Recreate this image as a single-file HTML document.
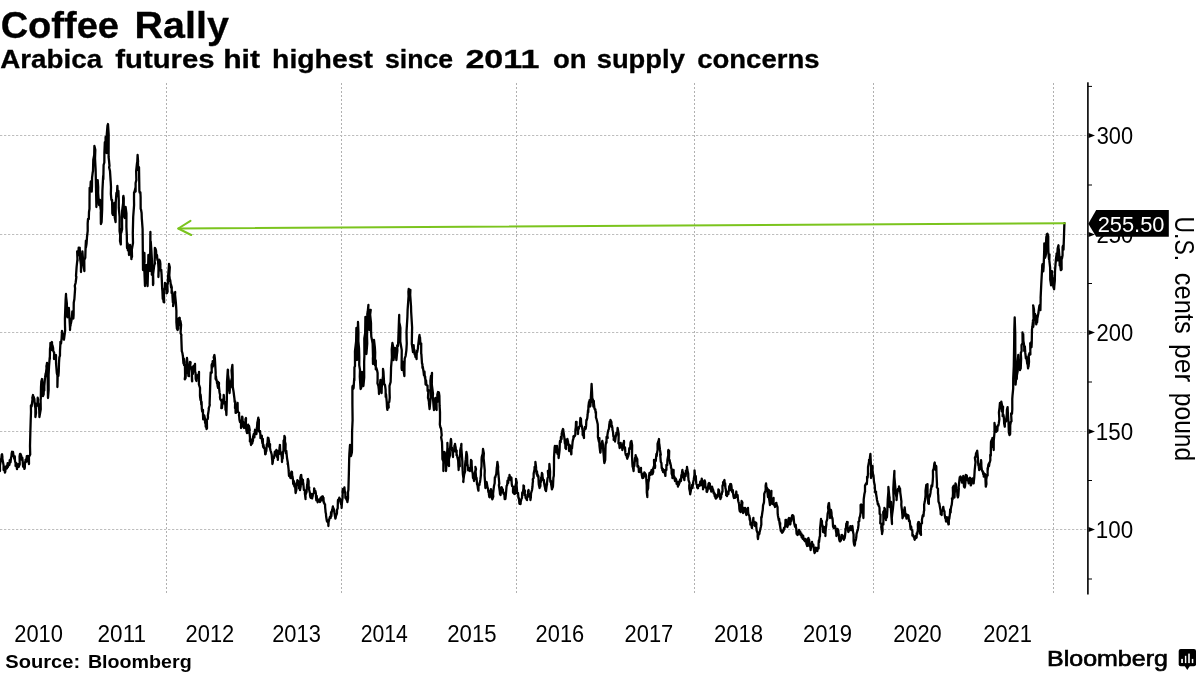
<!DOCTYPE html>
<html><head><meta charset="utf-8"><title>Coffee Rally</title>
<style>
html,body{margin:0;padding:0;background:#fff;}
body{width:1200px;height:675px;overflow:hidden;font-family:"Liberation Sans",sans-serif;}
svg{display:block;will-change:transform;}
text{font-family:"Liberation Sans",sans-serif;fill:#000;}
.b{font-weight:bold;}
.grid line{stroke:#bebebe;stroke-width:1;stroke-dasharray:2.3 1.7;}
.grid line.v{stroke:#b0b0b0;stroke-dasharray:2 2;}
</style></head><body>
<svg width="1200" height="675" viewBox="0 0 1200 675">
<rect width="1200" height="675" fill="#fff"/>
<text class="b" transform="translate(0.63,37.80) scale(1.0091,1)" font-size="37.71" stroke="#000" stroke-width="0.3">Coffee</text>
<text class="b" transform="translate(134.59,37.80) scale(1.0458,1)" font-size="37.71" stroke="#000" stroke-width="0.3">Rally</text>
<text class="b" transform="translate(0.21,68.30) scale(1.0959,1)" font-size="25.36" stroke="#000" stroke-width="0.3">Arabica</text>
<text class="b" transform="translate(115.21,68.30) scale(1.1563,1)" font-size="25.36" stroke="#000" stroke-width="0.3">futures</text>
<text class="b" transform="translate(223.19,68.30) scale(1.1897,1)" font-size="25.36" stroke="#000" stroke-width="0.3">hit</text>
<text class="b" transform="translate(272.05,68.30) scale(1.1195,1)" font-size="25.36" stroke="#000" stroke-width="0.3">highest</text>
<text class="b" transform="translate(384.97,68.30) scale(1.0522,1)" font-size="25.36" stroke="#000" stroke-width="0.3">since</text>
<text class="b" transform="translate(465.38,68.30) scale(1.3460,1)" font-size="25.36" stroke="#000" stroke-width="0.3">2011</text>
<text class="b" transform="translate(552.94,68.30) scale(1.0847,1)" font-size="25.36" stroke="#000" stroke-width="0.3">on</text>
<text class="b" transform="translate(596.69,68.30) scale(1.0795,1)" font-size="25.36" stroke="#000" stroke-width="0.3">supply</text>
<text class="b" transform="translate(697.19,68.30) scale(1.0855,1)" font-size="25.36" stroke="#000" stroke-width="0.3">concerns</text>
<g class="grid">
<line class="v" x1="166.5" y1="83" x2="166.5" y2="595"/>
<line class="v" x1="341.5" y1="83" x2="341.5" y2="595"/>
<line class="v" x1="516.5" y1="83" x2="516.5" y2="595"/>
<line class="v" x1="694.5" y1="83" x2="694.5" y2="595"/>
<line class="v" x1="873.5" y1="83" x2="873.5" y2="595"/>
<line class="v" x1="1053.5" y1="83" x2="1053.5" y2="595"/>
<line x1="0" y1="135.5" x2="1087" y2="135.5"/>
<line x1="0" y1="234.5" x2="1087" y2="234.5"/>
<line x1="0" y1="332.5" x2="1087" y2="332.5"/>
<line x1="0" y1="431.5" x2="1087" y2="431.5"/>
<line x1="0" y1="529.5" x2="1087" y2="529.5"/>
</g>
<g id="axis">
<rect x="1087.1" y="82.3" width="1.6" height="512.2" fill="#000"/>
<path d="M1088.5 132.9 L1095 135.5 L1088.5 138.1 Z" fill="#000"/>
<path d="M1088.5 231.9 L1095 234.5 L1088.5 237.1 Z" fill="#000"/>
<path d="M1088.5 329.9 L1095 332.5 L1088.5 335.1 Z" fill="#000"/>
<path d="M1088.5 428.9 L1095 431.5 L1088.5 434.1 Z" fill="#000"/>
<path d="M1088.5 526.9 L1095 529.5 L1088.5 532.1 Z" fill="#000"/>
<rect x="1088" y="85.9" width="4" height="1" fill="#000"/>
<rect x="1088" y="184.5" width="4" height="1" fill="#000"/>
<rect x="1088" y="283.0" width="4" height="1" fill="#000"/>
<rect x="1088" y="381.5" width="4" height="1" fill="#000"/>
<rect x="1088" y="480.0" width="4" height="1" fill="#000"/>
<rect x="1088" y="578.5" width="4" height="1" fill="#000"/>
</g>
<text transform="translate(1096.74,143.50) scale(0.9428,1)" font-size="23.14">300</text>
<text transform="translate(1096.40,242.50) scale(0.9517,1)" font-size="23.14">250</text>
<text transform="translate(1096.40,340.50) scale(0.9517,1)" font-size="23.14">200</text>
<text transform="translate(1095.82,439.50) scale(0.9670,1)" font-size="23.14">150</text>
<text transform="translate(1095.82,537.50) scale(0.9670,1)" font-size="23.14">100</text>
<polyline fill="none" stroke="#000" stroke-width="2.3" stroke-linejoin="round" stroke-linecap="round" points="0,471 -0.05,465.81 0.2,464.03 1,459 1.32,458.75 1.7,454.91 2.04,454.27 2.4,457 2.35,458.37 3.56,465.15 3.6,470 3.93,467.35 4.31,470.57 4.62,470.09 4.94,472.61 5.3,471.68 5.63,466.76 6,469 6.41,467.16 6.69,465.74 6.97,468.27 7.23,467.1 7.6,463.24 7.98,466.89 8.35,463.85 8.62,464.24 9,464 9.42,465.02 9.7,460.24 10.16,461.17 10.24,461.59 10.51,462.34 11,458 11.44,456.43 11.66,453.55 12.07,451.75 12.36,455.87 12.59,455.67 13,452 13.39,454.89 13.64,455.56 14.28,458.89 14.44,457.82 14.79,456.45 15,461 15.61,463.34 15.55,465.87 16.09,464.22 16.31,463.1 16.45,465.43 17,469 17.39,465.54 17.61,465.51 18.08,466.77 18.32,464.17 18.75,466.83 19,466 19.73,464.2 19.57,456.45 20,454 20.49,454 20.52,459.22 20.89,454.73 21.33,456.14 21.57,459.62 22,460 22.29,457.75 22.7,461.44 23.09,466.6 23.39,464.77 23.45,467.03 24,467 24.43,468.87 24.77,467.88 24.96,463.77 25.38,460.96 25.52,459.83 26,462 26.2,459.19 26.48,459.29 26.84,456.13 27.23,456.03 27.6,458 28.17,456.21 28.09,461.79 28.56,460.8 29,464 28.92,457.05 30.21,454.49 30,446 30.4,430 30.68,420.73 31,412 30.9,405.75 31.41,405.02 31.63,406.26 32.83,396.63 32.28,398.07 33,395 33.16,396.37 33.89,397.24 34.13,401.1 34.4,399 34.59,403 35.37,408.27 35.4,417 36.04,412.93 35.76,406.92 36.4,404 36.93,405.62 37.17,404.97 37.46,403.69 37.69,397.68 38,399 37.83,402.29 38.46,404.09 39.26,410.53 39.4,417 39.74,415.07 40.74,409.31 40.6,400 40.8,398.67 41,387.05 41.32,381.55 42,379 42.77,385.77 42.64,393.31 43,396 43.66,394.33 43.84,386.37 44.31,390.62 44.31,386.23 44.98,378.11 45,378 45.68,373.47 45.59,376.35 46.54,368.08 46.4,366 46.47,366.62 47,363 46.92,365.53 47.6,375 48,398 48.64,390.08 48.6,375 49,367 49.69,357.64 49.84,359.64 50,349 50.36,346.36 50.43,343.02 51.07,350.16 51.55,344.6 51.85,342.51 52,342 52.02,348.07 52.44,345.22 53.1,347.96 53.24,351 54.12,352.61 54,359 54.32,356.93 54.78,358.47 55.12,356.24 55.34,356.35 55.53,355.89 56,355 56.05,363.44 56.8,373 57.43,375.53 57.4,387 57.67,377.05 58,373 58.4,376 58.76,371.59 59,363 59.35,357.34 59.98,355.54 60,351 60.4,343.79 60.42,341.83 61.01,343.73 61.62,338.29 61.6,338.54 62,331 62.34,333.49 62.77,333.79 63.02,334.51 63.58,336.11 63.88,339.68 64,339 64.07,338.84 65.15,330.28 65,325 64.93,318.31 65.6,300.18 66,294 66.05,296.27 66.85,303.36 67,315 67.47,317.21 67.74,309.62 67.88,314.22 68.5,315.8 68.83,307.8 69,310 69.32,315.58 70.03,328.47 70,330 70.27,324.32 70.52,325.83 70.83,320.31 70.9,323.67 71.61,319.74 72,317 72.29,311.46 72.64,317.52 73.04,311.15 73.36,318.48 73.6,315 73.74,302.69 74.4,299 75.11,288.49 74.79,285.72 75.6,283 76.39,276.76 76,276.1 76.6,267 77.41,259.28 77.52,260.86 77.16,251.48 78,253 78.33,255.32 78.67,247.74 79,254.65 79.33,247.88 79.67,247.67 80,253 80.16,258.77 81.14,266.3 81,272 80.94,264.73 81.41,263.32 81.68,253.75 82.4,254 82.41,251.34 82.85,257.39 83.17,265.63 83.38,265.33 83.54,266.34 84.4,271 84.27,259.99 85.26,257.86 85.6,247 85.92,240.61 85.91,247.47 86.58,243.54 87,237 87.7,230.94 87.67,223.61 88,219 88.81,219.15 88.99,212.24 89,212 89.5,208.8 89.53,198.7 89.64,187.83 90.4,188 90.76,181.59 90.98,183.77 91.42,180.97 91.71,191.6 92,186 92.05,177.91 92.62,173.04 93,171 93.29,159.75 94.21,155 94.1,159.31 94.4,146 95.31,149.86 95.04,158.54 95.6,169 95.87,181.02 96.4,207 96.8,197.99 97.21,185.49 97.6,181 97.69,180.06 98.19,187.31 98.12,192.71 99,205 99.15,200.67 99.69,202.83 100,200 100.49,207.8 101.06,211.71 100.77,211.73 100.89,224.01 101.6,222 102.16,209.53 102.4,191 103.17,175.88 103.34,179.3 103.6,165 104.34,162.45 104.4,153 104.83,142.24 105.57,142.4 105.6,137 106.29,146.96 106.7,148.93 106.6,153 107.16,148.51 106.78,134.37 107.5,125.57 108,124 108.67,134.48 108.6,157 109.09,161.36 109.5,165.85 109.1,167.34 110,171 110.61,180.59 110.71,181.71 111,187 110.86,193.88 111.39,199.6 112,201 112.08,199.9 112.34,213.41 113,215 113.87,215.21 113.57,208.92 114.25,205.72 114.4,203 114.93,212.92 114.74,217.56 115.6,222 115.73,202.74 116.4,193 116.71,196.04 117,193.27 117.37,185.9 117.76,194.06 118.04,193.78 118.4,191 118.76,199.89 118.78,207.88 119.6,217 119.57,231.12 120.2,235 120,241 120.81,244.4 120.76,229.51 121.2,233 122.11,229.17 122,217 122.1,211.07 123.19,202.58 123.14,197.3 123.4,196 123.76,198.12 123.66,216.08 124.4,217 124.81,217.94 125.42,215.52 125.6,207 126.44,213.44 126.4,227 126.8,235 127,247 127.07,248.16 127.66,243.51 127.89,250.39 128.25,247.9 128.86,251.41 129,255 129.61,245.52 129.25,252.55 130,245 130.51,252.32 130.49,253.98 130.91,249.42 131.41,259.14 131.61,253.29 132,257 131.84,249.56 133.03,242.71 133,243 132.8,233 133.2,217 134.08,205.11 134,199 134.06,192.34 134.3,192.75 135.46,187.63 135.62,191.6 135.6,183 136.4,179.87 136.35,179.34 136.15,171.19 137,163 137.25,162.43 137.6,155 138.11,161.73 137.8,157.86 138.24,170.24 139,167 139.4,191 139.69,192.61 140.37,192.21 140.6,197 140.67,208.82 141.05,209.77 141.6,213 141.82,219.09 141.89,219.32 142.6,229 143,270 143.8,262.25 143.39,261.46 144.6,262.21 144.4,253 144.3,268.91 145,286 144.9,277.19 145.25,273.65 145.78,267.16 146.4,265 147.23,272.82 147.1,281.9 147.6,286 148.03,269.48 148.4,255 148.54,256.7 148.8,256.1 148.95,270.22 149.82,267.84 150,271 150.4,232 150.41,242.81 150.76,241.53 151.3,249.36 152.06,262.34 152,263 151.81,274.76 152.9,272.21 153,285 153.3,283.6 153.12,274.03 154,267 154.79,262.09 155.03,263.75 154.68,261.97 154.9,247.78 155.6,249 156.06,250.78 156.43,257.45 156.81,255.31 157,255 157.41,259.98 158.01,260.49 158.51,268.34 158.4,277 158.5,275.51 158.77,266.19 159.58,269.03 159.21,259.54 160,261 160.41,264.09 160.34,265.26 160.42,270.6 161.24,269.86 161.6,275 162.16,288.29 162.4,291 162.77,298.97 162.92,295.38 163.6,302 164.18,302.39 163.77,290.33 164.84,287.73 165,283 165.16,283.75 165.96,288.25 165.67,284.89 166.28,287.83 166.46,293.4 167,293 167.6,291.55 167.34,283.39 167.79,283.97 168.04,277.43 168.95,265.52 169,264 169.83,267.23 169.32,275.28 170,281 170.23,280.21 171.11,287.69 170.85,284.17 171.78,287.35 171.6,293 171.62,290.65 172.19,291.41 172.87,302.44 173.28,302.25 173.15,306.1 173.6,303 174.34,297.32 173.79,301.34 174.44,298.24 174.72,292.78 175.2,292 175.05,294.65 175.84,302.25 176.4,311 176.39,322.18 176.88,328.53 177.6,330 178.24,326.26 178.24,328.86 178.63,318.52 179,321 179.35,319.66 179.7,317.76 180.05,325.18 180.4,321 181.08,324.74 180.56,333.08 181.4,335 181.25,336.34 181.8,351.14 182.4,353 183.07,357.39 182.84,355.45 183.46,363.37 183.87,358.74 184,363 184,364 184.07,365.08 184.92,365 185.11,376.23 184.76,379.25 185.6,378 185.92,370.55 186.8,372.26 186.38,361.93 187,358 187.34,361.84 187.35,371 188.31,374.29 188.4,376 189.02,376.16 188.85,371.39 189.21,365.92 189.22,367.45 190,362 190.61,362.32 190.19,365.98 191.06,367.2 191.86,373.07 192.2,381.31 192,381 191.86,375.87 192.64,371.31 192.9,373.93 193.19,366.53 193.6,366 193.98,366.63 194.37,367.33 194.57,366.05 195,364 195.12,371.42 195.56,373.12 195.72,378.91 196.4,381 196.65,377.44 197.33,375.29 197.43,377.85 198.12,374.91 198.13,374.64 198.7,376.12 199,372 198.9,384.42 200.02,387.78 200,396 200.54,400.12 200.53,394.48 200.8,396.36 201.32,404.8 201.6,402 201.81,408.84 202.24,411.53 202.96,409.79 203,415 203.2,419.43 203.71,417.44 203.95,415.23 204.23,415.46 204.7,417.21 205,420 205.09,423 205.5,419.75 205.71,426.8 206.05,425.74 206.6,429 207,428.31 206.86,419.55 207.71,419.17 208,417 207.87,415.53 208.85,409.05 208.72,408.46 209.78,405 209.6,404 210.07,389.36 210.4,378 210.71,372.36 211.75,372.72 211.6,365 211.92,363.97 212.27,367.64 212.69,361.12 213,366 213.7,362.53 214.12,359.61 213.68,357.38 214.4,355 214.86,358.42 215.65,372.3 215.6,379 215.99,376.47 216.27,380.17 216.49,379.33 217.14,383.86 217.26,381.36 217.6,386 218.09,387.95 218.19,381.81 218.79,387.7 219,383 218.84,385.68 219.54,392.41 220.13,395.02 219.96,397.14 220.36,399.61 221,400 221.71,401.86 221.32,408.08 222,408 222.26,403.82 222.58,404.48 222.81,399.32 223.64,402.57 223.71,394.92 224,397 224.01,400.86 224.4,403.2 225,402 225.41,406.08 225.49,409.55 226.14,411.1 226.4,415 226.87,397.87 227,382 227.27,377.52 227.8,369.63 228,370 228.03,374.5 228.95,381.58 228.61,383.43 228.85,388.16 229.6,393 229.9,388.01 230.26,385.92 230.33,387.84 231,386 230.89,381.98 232.01,377.63 231.56,370.36 232.4,365 232.67,374.04 232.8,387.03 233.6,392 234.5,399.07 234.65,401.97 235.18,401.43 235,408 235.49,408.68 235.6,412.93 236.18,412.62 236.4,411 236.66,404.74 236.88,407.8 237.6,403 237.7,409.55 237.91,412.1 239.11,412.77 239,416 239.13,415.66 239.51,420.05 240,422 240.07,420.36 241.03,423.35 241,428 241.78,426.66 242.01,419.88 242.08,416.68 242.4,417 242.59,420.29 243.09,424.36 243.73,424.23 244.15,422.71 244,428 244.26,427.35 244.5,427 245.05,426.87 245.52,420.22 245.44,419.21 246,418 245.84,424.92 246.4,430.48 247,433 247.57,432.9 247.75,431.33 247.76,428.05 248.16,424.72 248.63,428.07 249,426 249.77,430.1 249.37,431.2 250,438 249.87,441.47 250.52,439 251,445 251.29,441.45 251.69,441.64 251.92,443.66 252.33,443.25 252.79,438.96 253,441 253.04,437.08 253.78,433.96 254,435 254.39,437.32 254.62,433.25 255.03,429.78 255.3,433.48 255.65,433.61 256,432 256.46,434.03 256.89,427.39 257,428 257.38,422.18 257.46,422.76 258.3,417.75 258.4,419 258.86,419.49 258.81,431.09 259.6,432 260,430.96 260.37,434.55 260.49,438.12 261,437 261.25,436.57 261.83,435.63 262,440 262.45,443.43 262.86,439.02 262.98,445.8 263.31,447.1 263.45,444.67 264,448 264.08,447.27 264.77,449.22 265.14,452.99 265.16,454.31 265.6,454 265.89,451.88 266.32,451.08 266.79,444.79 267,444 267.18,445.93 267.41,443.82 267.89,437.71 268.4,438 269.11,441.82 268.89,443.82 269.21,446.79 270.04,444.1 270,448 270.44,450.28 270.93,451.85 271,452 271.72,454.78 272.09,459.38 272.3,460.57 272.4,464 272.62,463.28 273.1,459.62 273.58,457.48 273.43,456.73 274,458 274.51,454.24 274.52,454.91 274.81,451.67 275.39,455.36 275.77,454.4 276,452 276.37,449.91 276.8,453.03 277.16,457.26 277.49,452.95 277.85,459.9 278,458 278.07,453.07 278.24,450.91 279.28,453.99 279.63,450.3 279.47,448.12 280,445 279.89,444.93 280.34,452.51 280.92,452.22 281.07,452.97 281.9,457.66 282,462 282.14,457.75 282.67,458.6 283,452 283.48,450.54 283.6,440.56 284.35,439.53 284.4,436 284.99,437.52 284.94,441.61 285.6,444 285.5,450.13 285.94,453.29 286.32,450.97 287,458 287.83,462.81 287.6,464 287.94,463.66 288.63,469.94 288.64,470.92 289,476 289.42,475.51 289.79,475.45 289.99,476.1 290.4,478 290.72,478.09 291.11,473.06 291.51,471.65 291.83,474.5 292,472 292.17,475.5 292.55,476.69 293,480 293.16,483.49 293.47,484.47 293.9,481.14 294.33,486.53 294.83,484.24 295,486 295.26,487.86 295.6,493 296.23,490.44 296.46,489.07 296.46,483.8 297,482 297.38,480.15 297.7,483.69 297.99,480.91 298.34,485.06 298.66,481.31 299,484 299.11,488.41 299.5,486.09 300,490 300.71,486.28 300.29,477.79 301,475 301.22,474.86 301.45,478.14 301.8,478.4 302.48,484.03 302.96,479.97 303,484 303.28,483 303.88,490.01 304.01,489.94 304.4,490 304.94,491.16 304.89,493.64 305.6,499 305.44,495.08 306.62,491.89 306.65,490.44 307,486 307.3,484.5 307.77,479.05 308,479 308.6,481.06 308.59,486.9 309.27,487.46 309.03,489.18 310.08,493.69 310,495 310.37,496.93 310.71,497.69 311.02,496.71 311.39,495.02 311.7,494.02 312.08,498.4 312.4,497 312.59,496.44 313.04,493.87 313.35,493.74 313.97,492.74 314.15,488.39 314.4,489 314.64,492.31 315.37,492.14 315.39,491.01 315.88,493.36 316,497 316.34,500.29 316.69,495.97 317.06,499.24 317.37,499.74 317.67,502.27 318,501 318.36,500.64 318.68,499.64 319.02,500.87 319.37,499.46 319.64,500.99 320,502 320.31,499.96 320.66,497.71 321.09,499.39 321.3,498.27 321.78,496.79 322.07,500.33 322.4,497 322.85,496.33 322.91,498.36 323.48,497.82 323.74,502.81 324,502 324.39,503.82 325.06,504.43 325.12,507.17 325.6,511.79 325.49,511.82 326,514 326.08,515.98 326.58,519.24 326.87,521.03 327.2,520.19 327.49,522.18 328.21,521.67 328.4,526 328.56,522.18 329.18,519.61 329.6,518 329.98,516.78 330.22,517.2 330.72,517.85 331.05,512.23 331.37,516.08 331.6,513 332.12,509.74 332.06,511.25 332.88,506.49 333,508 333.23,510.13 333.52,508.26 334.19,510.26 334.4,513 334.6,513.82 335.37,518.54 335.6,518 336.26,514.18 336.53,514.6 336.97,512.94 337,510 337.71,508.31 337.88,501.58 338,500 338.35,500.01 338.69,499.3 338.98,499.82 339.31,497.76 339.64,499.13 340,499 340.04,500.61 340.64,502.55 341.25,504.63 341.55,503.37 341.6,508 342,501.81 342.64,496.99 342.6,490 342.94,488.98 343.26,492.34 343.66,490.1 344,489 344.39,487.44 344.91,492.78 345.27,491.97 345.32,494.4 345.41,498.05 346,497 346.41,499.54 346.88,498.55 347.04,499.96 347.4,502 348.03,498.15 348,492.25 348.4,490 348.86,473.49 349.2,458 349.37,453.84 350,445 350.23,451.03 350.42,452.36 351,456 351.86,452.38 351.99,449.78 352,445 352.1,431.21 352.6,420 352.4,404 352.4,387 352.81,385.56 353.23,388.85 353.6,388 354.19,378.39 354.35,380.5 354.43,367.34 355,366 354.96,351.24 355.6,346 356.12,341.27 356.4,328 357.02,345.57 357,360 357.46,351.37 357.81,335.86 358,322 358.44,332.69 358.35,341.15 359,348 359.29,356.94 359.23,365.15 360,370 359.79,376.62 360.6,389 361.41,387.19 361.16,381.9 361.97,379.19 362,372 362.08,376.07 362.61,377.21 362.97,380.88 363.4,386 364.21,377.29 364.14,361.83 364.4,356 364.31,338.41 365.15,333.2 365.4,317 365.67,333.66 365.94,336.81 366.4,354 367.21,343.58 367.04,336.27 367.4,320 367.3,314.06 367.75,311.56 368.4,305 368.2,309.59 369.27,316.45 369.4,330 370.21,316 370,310 370.74,309.92 370.14,314.73 371,323 371.05,330.94 371.32,336.71 372,340 372.63,343.57 373.06,358.06 373,364 372.88,358.21 373.9,349.27 374,340 374.81,346.94 375.18,352.29 375,362 375.06,365.55 375.79,360.44 375.8,369.47 376.4,368 377.05,370.26 377.6,372.96 377.6,380 377.47,383.38 378.38,385.83 378.84,389.96 379,394 379.68,387.4 379.86,385.79 379.96,384.66 380.4,380 381.11,383.32 381.51,392.57 381.6,393 381.72,387.59 382.82,377.05 383.01,376.86 383,369 383.45,371.79 384.03,382 384,382 384.19,384.5 384.91,384.57 385.09,385.71 385.56,389.29 385.6,390 385.71,396.91 386.04,394.25 386.75,402.1 387,407 387.39,409.96 387.71,403.87 388,408 388.72,407.61 388.39,402.61 389.3,401.99 389.74,397.59 389.6,393 389.49,385.9 390.63,381.98 390.93,373.02 391,370 391.06,367.33 391.9,357.53 391.73,349.41 392.4,343 393.08,346.26 393.16,357.16 393.6,360 394.29,353.04 394.01,356.64 395.09,351.78 395,348 395.37,354.76 395.8,353.77 395.71,354.01 396.4,360 396.94,354.13 397.11,353.07 397.38,350.65 397.18,345.35 398,346 398.26,340.72 398.95,321.23 399.2,315 399.22,322.37 399.83,324.68 400.4,328 400.27,341.53 401.74,350.16 401.6,368 401.94,369.93 402.16,365.63 402.61,366.13 403,362 403.64,369.69 404.21,371.96 403.54,370.24 404.4,376 404.45,366.56 404.71,358.73 405.6,356 406.34,350.56 406.76,343.59 406.6,338 406.52,331.75 407.4,317 407.62,309.73 408.57,296.12 408.4,292 408.74,288.92 409.13,292.92 409.39,292.92 409.69,290.08 410.14,295.61 410.4,290 410.19,294.9 411,306 411.17,312.05 412.11,327.55 412,332 411.8,343.88 412.6,349 412.98,352.01 413.36,350.84 413.65,345.25 414.07,352.3 414.4,350 414.54,354.05 415.32,355.55 415.4,357 415.76,353.88 416.11,356.01 416.6,359 416.59,356.07 416.91,350.96 417.11,352.49 418,348 418.01,346.91 419.17,336.86 419.53,335.43 419.4,335 420.16,341.7 420.01,337.39 420.4,344 421.2,343.36 421.21,354.01 421.4,354 421.56,356.88 422.04,363.74 422.4,364 422.47,367.87 422.79,366.75 423.6,372 423.98,375.46 424.52,371.75 424.6,374.37 425,378 425.19,376.65 425.58,384.55 426.04,380.29 426.4,385 427.08,385.39 427.54,385.61 427.6,391 428.38,389.92 427.98,397.94 428.41,399.06 429,402 428.97,403.48 429.6,409 430.49,399.6 430.77,396.82 430.42,380.67 431,376 431.15,378.62 431.58,376.08 432,373 431.8,384.31 432.49,389.71 433,394 432.79,396.27 433.7,407.45 434,410 434.28,404.39 434.39,407.45 434.65,401.6 435.4,398 436.1,399.3 435.87,407.76 436.6,410 436.5,401.99 437.3,401.92 437.33,394.56 438,392 438.43,393.97 438.73,396.69 438.88,392.43 439.4,396 439.6,405.95 440,412 440,420 439.84,424.42 440.49,427.77 441,428 441.73,435.28 441.13,437.28 442,442 442.32,452.21 442.44,459.11 443.41,461.61 443.4,471 443.36,463.76 444.17,457.44 444.4,452 444.74,452.31 445.06,459.22 445.6,460.81 446.08,469.33 446,471 446.58,462.78 446.98,456.17 447.46,446.85 447.4,443 447.71,450.89 448.07,452.29 447.83,457.06 448.38,464.62 449,466 448.9,459.31 450.02,455.25 449.56,449.15 450,449.44 450.78,439.95 451,439 451.36,442.57 451.23,446.48 452.24,450.68 451.92,447.74 452.67,453.95 453,457 452.99,453.28 453.34,451.99 454.33,451.16 454.4,445.78 454.36,447.96 455,444 455.67,448.21 455.61,446.86 456.02,451.95 456.67,450.59 456.54,455.13 457,455 457.14,456.19 458.17,460.56 458.41,466.08 458.66,469.13 458.6,470 458.97,463.48 459.78,466.14 459.56,457.76 460,456 460.2,453.94 460.23,450.22 461.06,446.51 461.4,444 461.34,447.91 462.37,461.94 462.4,466 462.88,474.23 463.49,478.68 463.4,482 463.21,481.67 463.78,477.32 464.11,474.77 465.15,471.08 465,468 465.08,464.83 465.63,460.14 465.82,459.17 466.4,452 466.88,454.23 467.14,456.56 467.38,465.93 467.64,464.83 468,470 468.31,470.39 468.64,467.83 468.99,469.13 469.32,469.26 469.67,468.09 470,471 470.45,469.62 470.83,464.15 471,460 471.56,460.95 471.72,465.74 471.97,469.76 472.05,470.75 472.68,473.18 473,478 473.37,478.25 473.6,476.87 474,481 474.06,479.84 474.69,474.37 475.59,469.07 475.4,467 476.02,469.04 475.56,471.56 476.29,479.61 476.56,477.8 477,484 477.5,485.29 477.47,484.9 478,489 478.45,490.65 478.55,484.45 479.05,484.48 479.46,484.93 479.6,483 480,482 480.34,479.68 480.91,474.77 480.93,470.54 481.51,466.34 481.6,460 481.54,460.15 481.75,457.12 482.74,453.65 483,449 483.84,453.32 483.58,458.17 484,462 484.76,470.4 484.57,475.7 485,481.2 485.4,488 485.66,487.39 486.24,483.31 486.6,482 486.82,483.27 487.59,487.8 487.64,488 487.89,488.06 488.4,492 488.75,490.64 488.9,494.09 489.3,496.94 489.8,497.27 490,496 490.08,496.77 491.01,491.55 491,490 490.94,489.27 491.7,494.89 492.3,499.26 492.4,499 493.27,496.63 493.06,493.91 493.24,492.33 493.78,487.72 494,486 494.71,483.06 494.66,483.12 494.85,477.43 495.33,477.36 495.6,476 496.37,473.69 496.31,473.49 496.82,467.2 496.87,468.18 497.4,462 498.15,466.87 498,469.15 498.6,476 499.31,483.56 498.87,485.08 499.86,491.93 500,494 500.54,494.95 500.63,494.37 500.91,488.9 501.34,490.07 501.53,487.07 502,488 502.37,490 502.9,489.5 502.72,492.43 503.43,492.26 503.6,494 504.03,493.84 504.24,493.03 504.71,499.04 504.92,499 505.4,499 505.86,494.65 506.36,488.9 506.6,486 507.15,485.2 507.26,484.47 507.51,480.6 508,482 508.2,482.82 508.55,477.77 509.11,479.64 509.44,479.39 509.5,475 510,477 510.26,479.55 510.59,479.99 510.88,477.28 511.42,477.64 511.6,481 511.78,484.27 512.17,486.19 513.08,486.5 513,492 513.44,493 513.72,492.63 513.96,491.98 514.4,494 515.11,493.64 515.48,486.85 515.14,486.98 516.19,482.65 516,479 516.83,482.64 516.55,484.73 517,490 517.13,493.33 518,492.85 518.28,495.91 518.4,498 518.64,497.48 519.01,499.17 519.42,503.76 519.72,502.36 520.19,503.2 520.6,504 520.69,501.94 521.5,498.79 521.5,498.62 522,498 522.15,494.15 522.28,492.41 522.87,493 523.51,487.88 523.47,485.47 524,486 523.93,490.47 524.99,490.45 524.6,495.05 525.51,494.72 525.6,498 526.04,497.77 526.39,497.27 526.6,499.53 527,500 527,497.72 527.43,497.24 528.04,496.42 528.06,491.2 528.6,490 528.74,492.66 529.03,496.25 529.71,496.08 530.25,496.64 530.4,500 530.86,497.32 530.87,496.41 531,493.33 531.99,490.03 532,490 532.49,486.49 532.71,482.75 532.96,481.92 532.82,479.1 533.6,478 533.66,473.56 534.56,469.12 534.57,466.94 535.34,467.98 535.4,462 536.2,468.59 535.95,467.55 536.6,474 536.99,471.32 537.3,475.87 537.7,474.63 538,476.9 538.4,476 538.64,482.22 538.85,484.81 539.6,488 540.2,484.1 540.43,486.47 540.37,480.6 541,482 541.11,477.83 541.6,476.73 541.9,473 542.4,474 542.5,476.5 543.09,479.4 543.19,480.2 543.81,479.98 544,482 544.02,482.55 544.84,487.1 544.71,485.17 545.4,490.2 545.51,486.71 546,491 546.64,485.99 547.1,483.99 546.5,484.78 547.16,481.84 547.6,478 548.32,476.82 547.87,470.95 548.6,472.58 549.25,469.7 549.4,464 550.1,471.59 550.01,476.83 550.4,482 550.92,480.85 551.21,484.88 551.6,487 551.91,489.42 552.25,488.13 552.68,487.52 553,486 553.38,477.8 553.82,475.76 554,466 554.02,457.31 554.6,448 554.89,445.82 555.18,449.36 555.5,449.64 556,452 556.48,451.49 556.45,446.1 557,446 557.26,448.51 557.48,453.92 558.36,451.77 558.35,453.08 558.6,458 559.3,452.57 559.59,449.85 559.83,442.83 560,441 560.31,441.33 560.7,442.18 560.92,436.93 561.23,438.36 561.6,439 561.73,433.19 562.5,431.7 562.26,431.1 563,429 563.32,429.9 563.4,432.46 563.61,432.51 564.4,438 564.96,443.86 565.25,439.33 565.42,448.12 565.67,443.96 566,449 566.04,446.02 566.21,444.32 567.19,444.61 567.4,439 568.14,442.15 567.8,444.52 568.01,443.74 568.94,444.38 569,450 569.22,451.12 569.74,445.05 570,446 570.69,450.5 570.93,447.62 571.24,454.36 571.4,454 571.45,448.75 572,448.37 572.6,442 572.98,439.77 573.47,438.52 573.42,436.3 574,437 574.44,435.76 574.84,435.94 575.36,434.85 575.4,430 575.8,427.29 576.01,421.98 576.6,422 576.49,425.64 576.93,429.46 578.17,430.56 578,434 577.95,428.86 578.41,429.53 579,428 578.85,427.24 580.06,425.69 579.98,422.78 580.4,418 580.95,418.94 581.13,423.45 581.6,426 581.9,426.08 582.45,429.95 582.6,430 582.68,435.09 583.25,432.45 583.53,436.48 584,438 583.88,432.02 584.62,429.31 585,427 585.64,428.94 586.03,426.38 586.13,425.41 586.4,420 586.54,420.83 587.26,418.09 587.6,415 588.03,410.09 588.28,412.24 588.43,406.48 589,402 589.5,401.68 589.58,400.04 590.03,406.49 590.4,406 590.98,395.13 591.29,390.22 591.6,384 592.03,391.77 592.4,401 592.68,402.35 592.93,399.35 593.38,406.68 593.81,400.95 594,405 594.04,404.55 594.47,408.45 595,409.71 595.33,409.16 595.6,413 595.96,411.87 595.96,417.71 596.31,418.26 597,421 597.73,424.19 597.9,428.73 598,432 597.93,436.95 598.94,441.68 599.41,438.05 599.4,444 599.49,445.88 600.26,452.65 600.6,452 600.53,451.31 600.78,448.68 601.6,444 601.94,442.32 602.31,440.95 602.63,442.65 603,445 603.27,450.99 603.83,456.75 604.12,461.09 604.4,463 605.21,459.93 605.47,448.62 605.6,445 606.13,442.08 606.53,442.84 606.56,436.94 607,438 607.71,437.79 607.33,435.69 607.73,432.79 608.4,430 608.92,428.88 609.33,423.99 609.25,426.87 609.7,421.59 610.12,425.17 610.4,421 610.46,419.95 611.41,421.95 611.6,427 611.98,425.81 612.39,427.88 612.47,429.83 613,432 613.36,436.36 613.86,436.44 613.69,439.88 614.11,436.82 614.9,439.51 615,441 615.01,441.58 615.89,435.28 616,436 616.24,435.76 616.4,432.61 616.89,433.85 617.36,432.48 617.6,428 617.75,428.75 618.7,433.86 618.6,440 618.43,443.33 619.11,442.92 619.6,448 619.97,447.27 620.27,446.19 620.67,442.9 621,446 621.16,445.79 621.89,447.71 621.91,445.72 622.4,450 622.54,449.44 623.04,444.75 623.41,442.86 624.04,443.01 624,441 623.84,447.61 625,447.44 625.35,452.68 625.4,453 625.85,454.94 626.12,454.03 626.6,456 626.99,457.88 627.33,458.69 627.7,454.02 628.04,456.89 628.4,455 628.64,454.76 628.99,452.96 629.27,448.26 629.94,448.93 630,449 630.24,446.87 630.49,443.12 630.76,441.89 631.4,441 632.14,445.11 632.01,456 632.4,464 632.64,466.8 632.85,466.45 633.6,471 633.74,466.41 634.36,466.04 634.47,464.27 635,458 635.32,460.94 635.64,455.07 635.96,458.56 636.28,457 636.6,458 637.24,459.5 637.29,459.03 637.47,466.72 638,466 638.06,465.87 638.56,466.75 638.88,471.86 639.4,472 639.62,470.53 640.17,471.09 640.25,470.59 640.84,470.37 641,468 640.93,471.17 642.08,475.04 641.69,474.46 642.4,478 642.82,474.64 643.27,477.78 643.6,474 643.92,476.53 644.32,472.36 644.64,474.23 645,473 645.22,476.17 645.63,474.13 646.15,476.08 646.4,481 646.73,485.3 646.8,492.26 647.4,497 647.2,491.11 648.14,488.33 648.4,480 648.49,481.94 649.16,478.34 649.15,475.29 649.49,472.95 650,474 650.18,474.96 650.61,474.47 650.99,471.86 651.34,471.17 651.6,470 651.84,472.01 652.13,474.26 652.6,474 653.24,471.91 653.09,468.86 654.18,465.36 654,460 654.09,462.35 655.15,465.49 655,468 654.81,461.99 655.87,460.83 655.9,459.42 656.4,454 656.67,456.15 657.01,453.17 657.6,450 657.55,443.82 658.3,441.28 658.3,442.16 659,439 659.19,445.91 659.31,443.78 660,450 660.81,454.94 660.18,454.13 660.77,461.68 661.4,463 661.72,468.08 661.92,467.52 662.33,470.42 663,469.03 663,472 663.37,469.74 663.69,469.8 664.05,472.35 664.34,470.44 664.73,473.07 665,474 665.4,475.93 665.6,470.17 666.02,469.42 666.4,470 666.41,464.85 667.22,465.11 667.4,460 668.28,455.25 668.14,451.32 668.4,450 669.2,450.9 668.94,459.26 669.6,460 670.21,463.73 670.17,462.52 670.96,465.9 671,468 671.53,468.25 671.65,473.64 672.43,476.02 672.4,478 673.16,473.44 673.46,471.75 673.6,470 673.6,475.15 674.84,477.88 674.13,476.94 675,481 675.4,478.86 675.72,478.54 676.03,479.78 676.29,479.78 676.61,483.83 677,483 677.36,482.15 677.69,484.7 677.97,486.53 678.35,481.99 678.63,485.03 679,484 679.28,483.53 679.58,482.56 680.1,479.45 680.41,480.83 680.66,479.08 681,481 681.27,475.9 681.9,473.41 682.31,470.43 682.4,470 682.45,471.6 683.04,472.24 683.25,477.54 684.01,474.55 684,478 684.36,480.08 684.58,475.73 684.88,475.27 685.28,473.43 685.6,476 686,473.15 685.86,470.59 686.79,470.51 687,467 687.4,470.04 688.23,473.76 688.29,477.69 688.4,478 688.52,480.16 689.56,483.09 689.23,485.7 689.29,488.64 690,492 690.15,494.25 690.79,491.06 691,488.09 691.19,488.04 691.6,488 691.8,485.12 692.41,488.15 692.47,487.56 693,484 693.13,482.64 693.69,479.74 694.48,475 694.55,470.32 694.6,471 694.96,475.58 695.75,476.1 695.77,476.03 696,480 696.24,483.15 696.57,484.54 697.04,484.97 697.16,487.51 697.6,488 697.96,488.3 698.32,485.28 698.73,485.03 699,486 699.4,485.17 699.66,484.81 700,484 700.23,481.57 700.67,485.38 701.01,482.15 701.26,483.33 701.76,478.57 702,480 702.49,482.75 703.1,488.05 703,489 702.98,489.29 703.97,484.25 703.75,485.01 704.4,481 704.62,480.38 705.06,481.64 705.53,487.61 705.64,486.99 706.55,488.21 706.6,491.63 707,492 707.52,490.37 707.45,490.6 707.92,488.62 708.17,486.13 708.57,483.69 709,483 709.1,483.42 709.7,483.46 709.84,483.74 710.22,489.02 710.54,487.75 711,490 711.27,491.56 711.77,489.84 712.03,486.65 712.4,488 712.78,490.8 712.88,489.21 713.34,490.65 713.65,493.3 714.13,492.44 714.4,494 714.75,496.3 715.16,494.17 715.46,497.84 715.92,498.54 716.28,495.38 716.56,495.55 717,497 717.27,497.37 717.67,494.82 718.13,495.93 718.38,489.45 718.65,490.94 719,490 719.27,494.32 720.05,494.34 720.04,496.39 720.4,499 720.92,497.67 721.19,497.22 721.08,494.21 721.71,494.49 722,492 722.54,491.82 722.45,485.97 723.24,483.86 723.02,482.16 723.72,484.44 724,481 724.48,479.93 724.69,485.83 725.18,483.47 725.4,488 725.78,489.09 726.26,494.25 726.11,495.06 726.69,493.4 727,496 727.54,492.03 727.57,492.64 727.9,491.87 728.36,494.19 728.63,491.07 729,490 729.25,486.23 729.79,490.27 729.9,489.22 730.15,484.14 730.61,485.23 731,484 731.31,485.18 731.56,487.32 731.78,490.07 732.31,492.18 732.6,491 732.82,490.02 733.24,494.7 733.53,496.64 734,498 734.42,495.98 734.73,495.42 735.03,497.81 735.46,495.06 735.77,494.33 736,494 736.31,491.53 736.6,495.24 736.92,496.79 737.25,495.38 737.6,495 738,499.77 738.3,501.27 738.81,502.77 739,504 739.12,504.42 739.39,509.13 739.75,511.17 740,508.16 740.6,512 741.43,509.95 741.44,504.17 741.6,501 742.4,502.6 741.92,508.06 742.87,507.5 743,513 743.45,509.61 743.57,510.18 743.94,510.96 744.21,510.01 744.61,511.16 745,508 745.11,511.67 746.04,513.17 745.72,512.65 746.4,515 746.81,512.94 747.07,510.66 747.34,508.52 747.64,510.69 748,508 748.04,511.01 748.4,513.83 749.45,516.34 749.4,516 749.74,519.99 749.93,518.07 750.36,522.14 750.4,524.68 751,524 751.54,525.25 751.69,527.17 752,528 751.99,523.35 753.09,521.79 752.78,522.35 753.4,518 753.39,521.88 754.37,521.73 754.67,521.98 754.37,525.22 755,526 755.34,524.63 755.75,523.68 756.11,522.81 756.4,524 756.25,525.95 756.6,530.3 757.68,533.26 757.64,536.47 758,539 758.36,535.46 758.77,534.51 759.09,533.42 759.4,534 759.63,531.66 759.8,531.63 760.67,527.51 760.92,526.73 761,526 761.33,524.48 761.25,517.11 761.63,517.58 762.4,512 762.75,509.98 763.01,505.83 763.39,504.07 763.56,504.04 764,502 764.21,497.01 764.23,493.82 765.37,490.82 765.71,489.21 765.6,486 766.04,483.47 766.36,486.93 766.69,487.94 767,488 767.61,489.34 767.41,491.91 768,497 768.23,491.84 768.46,492.44 769,490 768.88,497.35 769.37,500.46 770,505 770.66,502.06 770.22,499.25 771.16,492.97 771.4,491 771.23,498.24 772.28,500.36 772.4,504 772.69,503.84 773.17,501.83 773.6,498 773.51,502.73 774.22,505.06 774.28,504.21 775,507 775.44,504.54 775.56,506.03 775.91,503.1 776.4,503 776.41,503.87 777.56,507.24 777.68,513.59 777.68,513.29 778,516 778.59,519.02 778.78,520.36 779.13,518.89 779.4,522 779.92,525.42 780.19,523.07 780.12,526.02 780.8,530.8 781,530 781.31,531.5 781.74,532.17 782.07,532.81 782.4,531 782.8,532.1 783.02,530.26 783.43,530.87 783.63,530.51 784,528 784.35,529.06 784.45,527.67 785.16,526.47 785.52,521.35 785.5,519.9 786,520 786.17,521.53 786.99,523.46 787.2,526.22 787.4,527 787.94,524.63 788.18,524.95 788.62,523.95 788.35,519.3 789,518 789.55,520.32 789.76,520.14 790.23,524.28 790.4,524 790.71,519.77 790.77,518.21 791.3,520.88 791.65,518.17 792,516 792.35,515.1 792.7,515.2 793.05,516.65 793.4,516 793.56,516.78 794.14,523.07 794.6,525 795.04,526.59 795.35,524.53 795.75,524.87 796,528 796.19,528.13 796.6,533.82 797.32,531.86 797.4,535 797.89,534.55 798.04,532.47 798.36,534.3 798.54,533.48 799,530 799.17,532.68 799.42,532.14 800.15,531.37 800.42,533.77 800.6,535 800.95,533.96 801.32,533.42 801.68,537.4 802.07,535.19 802.4,536 802.78,538.74 803.08,535.52 803.52,538.13 803.74,538.53 804,540 804.34,540.39 804.72,539.61 805.05,541.23 805.4,539 806.01,539.74 806.25,539.67 806.4,544.07 806.83,544.35 807,546 807.53,545.86 807.33,543.2 807.76,539.15 808.4,538 809.01,541.87 809.13,539.62 809.4,543 809.43,545.69 810.4,547.17 810.6,550 810.77,548.66 811.13,547.23 811.59,544.21 812,542 812.41,545.28 812.77,545.45 813.24,544.44 813.4,546 813.96,549.3 813.92,549.65 814.6,553 815.11,552.09 815.22,551.84 815.66,547.59 816,548 816.25,550.49 816.6,550.6 816.92,549.39 817.4,551 817.7,547.73 818.58,548.52 818.6,544 818.8,540.5 819.06,542.15 819.6,537.12 820,536 820.07,528.34 820.54,524.11 821,519 821.17,523.15 821.95,520.76 822,524 822.7,526.41 822.97,530.04 823,532 823.09,529.39 823.65,529.99 824,527 824.5,529.55 824.5,532.78 825.43,533.06 825.4,536 825.5,532.15 825.8,528.67 826.4,524 826.3,522.12 827.27,519.11 827.6,514 828.43,510.43 828.02,507.17 828.7,503.28 829,503 829.53,509.44 830.01,512.52 830,518 830.12,513.2 831.18,513.47 831,510 831.5,512.75 831.62,515.52 832.24,518.41 832.4,518 832.68,520.49 833.03,526.27 833.6,528 834.02,525.87 834.3,527.16 834.73,527.38 835,526 835.19,526.61 835.61,528.79 836.4,533.51 836.4,536 836.86,534.51 837.26,530.84 837.6,529 838.26,530.1 838.6,534.95 838.8,534.02 839,538 839.35,539.99 839.82,541.44 840.15,541.43 840.4,541 840.92,540.52 841.15,536.8 841.42,538.4 841.45,535.09 842,535 842.43,536.31 842.54,535.48 842.82,536.04 843.45,539.06 843.6,539 843.91,539.73 844.17,538.48 844.6,538.42 845,536 845.48,530.84 845.42,528.83 846,528 846.29,523.7 846.92,524.29 847,522 847.68,522.08 847.42,524.98 847.89,530.16 848.4,532 848.74,530.34 849.14,528.96 849.48,528.11 849.69,530.39 850,528 850.41,526.08 850.7,526.58 850.96,529.11 851.4,530 851.86,529.34 852.01,527.77 852.4,526 852.9,531.06 853.6,534.64 853.6,541 854.04,544.13 854.25,544.71 854.52,545.57 855,544 855.06,541.89 855.85,539.78 856.01,539.02 856.4,536 856.53,533.81 856.91,532.71 857.5,530.25 857.64,530.48 858,529 858.57,524.68 858.44,521.9 859.27,521.07 859.4,518 860.07,516.28 860.66,511.86 860.6,505 861.04,507.28 861.18,504.5 861.8,505.23 862,509 862.47,512.49 862.57,512.19 863.17,513.91 863.4,518 863.52,512.77 863.71,499.34 864.4,494 865.07,491.12 865,491.87 865.02,485.53 865.92,483.84 866,484 866.58,482.62 866.79,484.22 867.13,480.25 867.07,476.81 867.6,478 867.96,473.92 868.03,467.05 869.1,461.24 869,460 869.62,459.96 869.66,460.37 869.98,457.14 870.4,454 871.08,468.11 871,478 870.81,473.21 871.73,471.32 871.44,469.99 872.58,470.62 872.6,466 872.45,469.76 873.34,476.55 873.46,475.23 874,482 874.66,484.79 874.76,485.9 874.74,486.18 875.18,492.5 875.6,492 876.02,491.61 876.06,493.76 876.72,497.74 877,500 877.42,501.8 877.49,501.65 877.81,504.3 878.29,503.83 878.76,506 879,506 879.51,508.03 879.67,514.07 880.5,514.54 880.4,520 880.24,523.32 881.58,524.23 881.24,527 882.04,532.66 882,534 882.62,530.68 882.25,523.59 883.38,524.53 883.4,518 883.24,512.12 884.54,509.88 884.4,508 884.9,508.82 885.19,515.19 885.11,517.5 885.17,515.72 886,520 885.91,518.65 886.93,517.11 887.39,510 887.4,509 887.75,499.7 888.38,491.95 888.4,487 889.26,496.03 889.59,497.41 889.6,507 890.11,506.07 890.36,504.51 890.8,503.8 891,502 890.84,506.95 891.44,516.91 892,524 891.79,518.11 892.14,514.69 893,508 893.69,500.7 893.28,489.24 893.73,481.21 894.4,471 894.37,476.87 895.25,486.67 895.6,490 895.49,492.44 896.65,498.04 896.6,500 896.51,499.33 897.08,493.7 897.26,493.35 898,489 898.35,489.66 898.7,490.66 899.05,486.38 899.4,489 899.72,489.84 900,488.3 900.28,492.6 900.77,496.1 901.43,501.7 901.3,505 902.03,510.75 902.47,516.15 902.5,518.3 902.54,517.68 903.47,515.7 903.86,512.52 904.27,509.31 904.48,508.97 904.7,507.5 904.85,509.18 905.24,512.79 905.8,516.7 906.13,514.15 906.5,518.65 906.86,518.05 907.23,517.19 907.5,515 907.75,517.38 908.14,515.64 908.41,515.4 909.03,521.08 909.2,520 909.8,521.32 910.27,525.91 910.3,526.7 910.66,529.05 911.11,526.31 911.39,528.22 911.7,530 912,530 912.36,530.99 912.43,535.67 913,535 913.41,536.15 913.88,537.19 914.22,537.55 914.4,539 914.76,539.73 915.01,536.6 915.4,537.36 915.66,535.82 916,538 916.64,537.57 916.66,533.39 917.16,534.44 917.4,532 918.01,529.93 917.8,524.02 918.4,522 918.98,522.19 918.98,525.83 919.6,530 920.02,533.61 920.38,532.96 920.75,534.24 921,535 920.8,530.8 920.82,527.29 921.18,523.54 922,523.3 921.94,519.79 922.66,515.67 923,515 923.49,516.2 923.93,510.94 924.2,510.8 924.13,504.79 924.83,501.32 925.3,498.3 925.57,495.01 925.52,490.84 926.3,485 926.69,487.45 927.06,486.56 927.5,484.2 927.6,495.74 928.3,503.3 928.85,503.73 928.85,501.01 929.15,495.44 929.7,496.7 929.74,496.65 930.52,492.67 930.8,489.2 931.11,489.36 931.48,485.32 932,486.7 932.2,486.42 932.74,481.01 933,476.7 932.92,470.67 933.8,468.3 934.37,463.36 934.76,462.45 934.7,463.3 935.34,465.73 935.5,470 936.07,465.92 936.3,466.7 936.5,473.83 937,484.2 936.91,487.38 937.99,488.72 938,493.3 938.27,495.35 938.5,501.53 939.2,503.3 939.36,503.51 939.83,506.57 940.3,509.2 940.63,511.44 940.74,514.16 941.55,514.46 941.7,515 941.69,511.86 942.07,511.31 942.83,509.75 943,508.3 943.29,506.84 943.7,509.85 944.2,510.8 944.51,511.81 944.52,513.71 945.3,518.3 945.64,517.97 946.01,521.5 946.3,517.27 946.7,520 947.09,520.48 947.58,520.34 947.8,517.5 947.77,521.66 948.49,524.33 948.8,524.2 948.84,519.17 949.28,518.92 950,513.3 950.18,509.31 950.65,512.37 950.73,509.63 951.24,506.39 951.7,505 952.2,500.36 951.93,498.33 952.65,499.12 953,493.3 952.81,487.58 953.7,485.8 954.12,492.58 954.5,497.5 954.8,489.88 955.21,489.52 955.5,483.3 955.9,484.44 956.45,489.55 956.7,491.7 957.13,490.36 957.43,496.04 957.61,496.32 957.87,497.4 958.3,495.8 958.81,488.59 958.64,487.26 959.5,479.2 959.78,477.15 960.12,478.36 960.5,476.54 960.8,478.3 961.42,480.23 961.69,480.47 962,482.5 962.65,477.71 962.63,477.43 963.3,477.55 963.3,475.8 964.19,478.67 963.69,482.42 964.02,486.68 964.7,487.5 965.02,486.49 965.94,477.41 965.8,475 966.1,475.09 966.58,476.48 966.79,475.68 967.2,480 967.68,478.67 967.98,478.47 968.31,480.94 968.7,483.3 969.12,482.67 969.24,478.94 969.88,477.8 970,479.2 970.13,478.21 970.69,481.84 970.74,485.4 971.3,484.2 971.47,480.55 972.07,480.81 972.5,478.3 973.13,479.38 973.51,482.66 973.7,483.3 973.78,481.81 974.27,477.33 974.7,470 975.52,462.22 974.9,457.8 975.8,455.8 976.04,453.06 976.69,456.62 976.86,451.48 977.2,450.8 977.94,458.7 978,461.7 978.41,465.51 978.55,464.65 979.2,470 979.63,469.13 980.23,468.17 980.3,464.2 980.56,466.79 981.06,460.16 981.3,462.5 981.36,466.04 981.84,469.92 982.5,471.7 982.75,471.21 983.25,474.36 983.6,472.67 983.8,476.7 984.19,476.68 984.69,476.16 985,474.2 985.37,477.31 985.8,486.7 986.43,483.93 986.25,479.85 987,475 987.63,475.53 987.58,468.22 987.66,470.58 988.3,465 988.83,463.55 989.02,466.07 989.5,462.5 989.72,462.45 990.34,460.29 990.27,454.87 990.8,455.8 990.84,448.49 991,441.87 991.7,440 992.05,439.87 992.45,438 992.8,441.7 993.18,447.71 993.62,446.19 993.7,450 993.74,440.78 994.5,432.5 994.5,423 994.58,424.54 995.05,427.73 995.93,427.03 996.23,431.78 996.4,431.4 996.84,431.37 997.35,430.74 997.65,425.68 997.82,425.37 998.3,425.8 998.74,423.68 999.36,419.27 998.94,412.5 999.6,407.1 999.95,402.8 1000.26,408.43 1000.57,402.71 1000.99,403.29 1001.28,401.61 1001.68,403.51 1002,405.2 1001.84,411.59 1003.09,406.72 1002.62,416.09 1003.3,414.6 1003.7,416.3 1003.96,419.22 1004.16,423.51 1004.8,426.7 1004.85,421.11 1005.23,419.83 1006.08,421.39 1006.3,418.3 1006.95,413.58 1006.78,414.57 1006.93,409.83 1007.6,407.1 1007.97,415.57 1007.82,413.42 1008.5,422 1008.71,427.87 1008.87,432.4 1009.5,435.1 1010.16,434.1 1010.24,425.41 1010.7,422.86 1010.8,422 1011.5,421.18 1011.1,413.33 1012,413.59 1012.3,409 1012.26,399.08 1012.47,395.98 1013.2,388.4 1013.22,378.42 1013.8,366 1014.1,347.3 1014.32,329.93 1014.7,317.5 1015.25,334.64 1015.3,351.1 1015.6,384.7 1016.15,378.15 1016.04,377.49 1016.77,378.92 1016.9,375.3 1017.69,371.24 1017.39,362.27 1017.69,361.47 1018.3,354.8 1018.37,355.26 1019.39,364.84 1019.4,366 1019.86,368.72 1019.99,370.15 1020.44,366.38 1020.7,368.8 1021.12,358.7 1020.8,353.05 1021.6,351.1 1021.52,345 1022.62,342.99 1022.5,332.4 1022.52,334.81 1023.21,334.16 1023.4,341.01 1023.9,343.6 1024.28,348.07 1024.23,350.96 1024.84,346.37 1025.3,352.9 1025.5,354.62 1025.86,358.27 1026.41,356.79 1026.8,360.4 1027.28,363.71 1027.45,361.79 1028.05,368.33 1027.95,366.71 1028.5,366.9 1029.02,361.81 1028.72,355.44 1029.6,352.9 1030.38,354.51 1030.23,343.04 1030.6,343.6 1030.78,346.02 1031.34,341.8 1031.5,347.3 1031.73,343.18 1031.98,329.4 1032.4,326.8 1032.91,321.65 1032.97,320.27 1033.23,326.83 1033.7,323.1 1033.3,306.6 1033.13,305.3 1033.94,308.92 1034.2,315.5 1034.45,319.93 1035.01,313.79 1035.22,317.35 1035.55,315.03 1036,319.9 1036.25,324.35 1036.73,316.27 1037.11,322.44 1037.46,317.45 1037.7,317.2 1037.82,316.11 1038.55,312.43 1038.32,313.13 1039,308.4 1039.43,305.5 1039.75,304.99 1040.01,307.93 1040.4,310.1 1040.67,298.53 1040.61,297.9 1041.3,283.5 1041.4,281.7 1042.17,267.76 1042.2,265.7 1042.49,264.25 1042.96,265.62 1043.26,271.39 1043.6,267.5 1044.24,249.51 1044.3,243.5 1045.11,249.26 1044.84,257.94 1045.4,256.8 1046.1,253.57 1046.1,241.7 1046.34,236.76 1046.68,236.16 1046.84,234.22 1047.5,233.8 1048.25,236.25 1048.25,244.48 1048.4,251.5 1048.98,259.22 1049.46,254.32 1049.3,260.4 1050.14,267.62 1050.18,270.25 1050.2,271.1 1050.23,279.5 1050.67,282.37 1051.1,285.3 1051.1,282.16 1051.9,271.1 1052.02,273.93 1052.33,279.59 1052.8,278.2 1053.43,284.19 1053.28,286.58 1054.11,289.24 1054.3,286.2 1054.82,280.71 1055,271.1 1055.74,261.53 1055.62,263.34 1056,258.6 1056.65,253.98 1056.7,253.3 1057.41,259.12 1057.12,254.55 1057.6,260.4 1057.46,252.3 1057.68,248.19 1058.5,245.3 1058.57,253.41 1058.76,248.89 1059.6,258.6 1059.67,265.38 1060.29,265.88 1060.8,270.2 1061.6,269.36 1061.55,258.97 1061.7,256.8 1061.97,258.42 1062.56,255.28 1062.6,247.1 1063.05,245.62 1063.04,249.74 1063.5,249.7 1064,235.5 1064.4,223.1"/>
<g stroke="#7bc41e" stroke-width="2" fill="none" stroke-linecap="round" stroke-linejoin="round">
<line x1="178.3" y1="228.5" x2="1065" y2="223.2"/>
<polyline points="190.5,220.8 178.3,228.5 191.2,235"/>
</g>
<path d="M1088.3 223.7 L1096.2 210 L1168.8 210 L1168.8 236.7 L1096.2 236.7 Z" fill="#000"/>
<text transform="translate(1097.66,232.00) scale(0.9680,1)" font-size="22.57" style="fill:#fff">255.50</text>
<text transform="translate(1174.5,216.58) rotate(90) scale(0.8458,1)" font-size="27.10">U.S.</text>
<text transform="translate(1174.5,272.68) rotate(90) scale(0.9420,1)" font-size="27.10">cents</text>
<text transform="translate(1174.5,344.01) rotate(90) scale(0.9777,1)" font-size="27.10">per</text>
<text transform="translate(1174.5,392.82) rotate(90) scale(0.9072,1)" font-size="27.10">pound</text>
<text transform="translate(14.20,642.20) scale(0.9412,1)" font-size="23.29">2010</text>
<text transform="translate(97.57,642.20) scale(0.9676,1)" font-size="23.29">2011</text>
<text transform="translate(185.61,642.20) scale(0.9395,1)" font-size="23.29">2012</text>
<text transform="translate(272.21,642.20) scale(0.9394,1)" font-size="23.29">2013</text>
<text transform="translate(360.64,642.20) scale(0.9108,1)" font-size="23.29">2014</text>
<text transform="translate(447.19,642.20) scale(0.9534,1)" font-size="23.29">2015</text>
<text transform="translate(535.61,642.20) scale(0.9373,1)" font-size="23.29">2016</text>
<text transform="translate(624.61,642.20) scale(0.9395,1)" font-size="23.29">2017</text>
<text transform="translate(713.89,642.20) scale(0.9514,1)" font-size="23.29">2018</text>
<text transform="translate(802.90,642.20) scale(0.9476,1)" font-size="23.29">2019</text>
<text transform="translate(893.21,642.20) scale(0.9372,1)" font-size="23.29">2020</text>
<text transform="translate(983.20,642.20) scale(0.9416,1)" font-size="23.29">2021</text>
<text class="b" transform="translate(5.30,667.70) scale(1.0746,1)" font-size="18.71">Source:</text>
<text class="b" transform="translate(87.92,667.70) scale(1.0521,1)" font-size="18.71">Bloomberg</text>
<text transform="translate(1047.00,665.80) scale(1.1060,1)" font-size="22.61" stroke="#000" stroke-width="0.7">Bloomberg</text>
<g id="bicon">
<rect x="1178.7" y="649.1" width="17.3" height="17.1" rx="2" fill="#000"/>
<path d="M1184.6 665.8 L1190 665.8 L1187.3 670 Z" fill="#000"/>
<rect x="1181.1" y="658.9" width="1.9" height="4.1" fill="#e8e8e8"/>
<rect x="1184.9" y="655.8" width="1.4" height="7.3" fill="#fff"/>
<rect x="1188.2" y="653.6" width="1.6" height="9.5" fill="#fff"/>
<rect x="1191.8" y="658.9" width="1.5" height="4.2" fill="#fff"/>
</g>
</svg>
</body></html>
